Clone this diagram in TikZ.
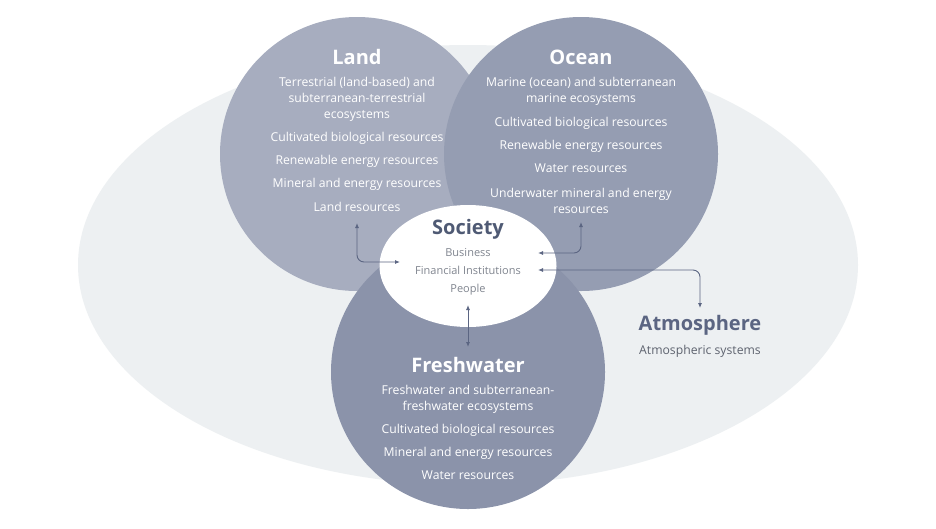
\documentclass[tikz,border=0pt]{standalone}
\usepackage{fontspec}
\setmainfont{Open Sans}
\usetikzlibrary{arrows.meta,shapes.geometric}
\definecolor{backfill}{HTML}{EDF0F2}
\definecolor{landfill}{HTML}{A7ADBF}
\definecolor{oceanfill}{HTML}{959DB2}
\definecolor{freshfill}{HTML}{8B93AA}
\definecolor{linkcol}{HTML}{5B6582}
\definecolor{socdark}{HTML}{4F5A74}
\definecolor{socgrey}{HTML}{80858F}
\definecolor{atmogrey}{HTML}{5E636F}
\tikzset{
  sphere/.style={circle, inner sep=0pt, minimum size=274pt},
  title/.style={font=\bfseries\fontsize{20}{24}\selectfont, text=white, inner sep=0pt},
  item/.style={font=\fontsize{12.2}{16}\selectfont, text=white, align=center, inner sep=0pt},
  oneline/.style={item, text height=8.8pt, text depth=2.6pt},
  socitem/.style={oneline, font=\fontsize{11}{14}\selectfont, text=socgrey},
  link/.style={draw=linkcol, line width=0.9pt, rounded corners=7pt,
    {Latex[length=5pt,width=4pt]}-{Latex[length=5pt,width=4pt]}},
}
\begin{document}
\begin{tikzpicture}[x=1pt,y=-1pt]
  \useasboundingbox (0,0) rectangle (936,528);
  \fill[white] (0,0) rectangle (936,528);
  \node[ellipse, fill=backfill, inner sep=0pt, minimum width=780pt, minimum height=440pt] (world) at (468,265) {};
  % the three realms
  \node[sphere, fill=landfill] (land) at (357,154) {};
  \node[sphere, fill=oceanfill] (ocean) at (581,154) {};
  \node[sphere, fill=freshfill] (fresh) at (468,372) {};
  \node[ellipse, fill=white, inner sep=0pt, minimum width=177pt, minimum height=122pt] (society) at (468,266) {};
  % land
  \node[title] (landtitle) at (357,57) {Land};
  \node[item] (landeco) at (357,99) {Terrestrial (land-based) and\\subterranean-terrestrial\\ecosystems};
  \node[oneline] (landbio) at (357,138) {Cultivated biological resources};
  \node[oneline] (landren) at (357,161) {Renewable energy resources};
  \node[oneline] (landmin) at (357,184) {Mineral and energy resources};
  \node[oneline] (landres) at (357,208) {Land resources};
  % ocean
  \node[title] (oceantitle) at (581,57) {Ocean};
  \node[item] (oceaneco) at (581,91) {Marine (ocean) and subterranean\\marine ecosystems};
  \node[oneline] (oceanbio) at (581,123) {Cultivated biological resources};
  \node[oneline] (oceanren) at (581,146) {Renewable energy resources};
  \node[oneline] (oceanwat) at (581,169) {Water resources};
  \node[item] (oceanmin) at (581,200.5) {Underwater mineral and energy\\resources};
  % freshwater
  \node[title] (freshtitle) at (468,365) {Freshwater};
  \node[item] (fresheco) at (468,399.5) {Freshwater and subterranean-\\freshwater ecosystems};
  \node[oneline] (freshbio) at (468,430) {Cultivated biological resources};
  \node[oneline] (freshmin) at (468,453) {Mineral and energy resources};
  \node[oneline] (freshwat) at (468,476) {Water resources};
  % society
  \node[title, text=socdark] (soctitle) at (468,229) {Society};
  \node[socitem] (business) at (468,253) {Business};
  \node[socitem] (finance) at (468,271) {Financial Institutions};
  \node[socitem] (people) at (468,289) {People};
  % atmosphere
  \node[title, text=linkcol] (atmotitle) at (700,325) {Atmosphere};
  \node[oneline, text=atmogrey] (atmosys) at (700,351) {Atmospheric systems};
  % links
  \coordinate (landtip) at (357,223);
  \coordinate (landin) at (400,262);
  \coordinate (oceantip) at (581,222);
  \coordinate (oceanin) at (538,253);
  \coordinate (atmoin) at (538,270);
  \coordinate (atmotip) at (700,308);
  \coordinate (freshin) at (468,305);
  \coordinate (freshtip) at (468,347);
  \begin{scope}
    \draw[link] (landtip) |- (landin);
    \draw[link] (oceantip) |- (oceanin);
    \draw[link] (atmoin) -| (atmotip);
    \draw[link] (freshin) -- (freshtip);
  \end{scope}
\end{tikzpicture}
\end{document}
